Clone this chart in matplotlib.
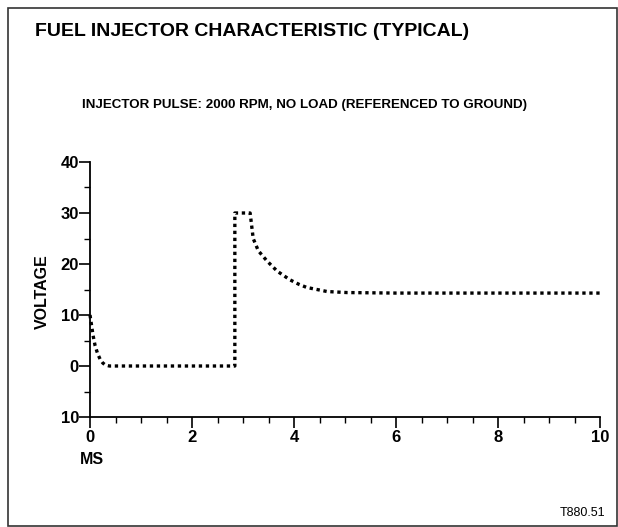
"""
Fuel injector characteristic — injector pulse voltage trace.
"""

import matplotlib.pyplot as plt
from matplotlib.patches import Rectangle
from matplotlib.ticker import MultipleLocator, FixedLocator

plt.rcParams["font.family"] = ["Liberation Sans", "DejaVu Sans"]

# trace (ms, volts)
time_ms = [0.0, 0.03, 0.06, 0.1, 0.15, 0.2, 0.25, 0.3, 0.38, 0.5, 1.0, 2.0, 2.84,
           2.84, 3.0, 3.14, 3.2, 3.3, 3.47, 3.67, 3.92, 4.1, 4.25, 4.65, 5.04, 6.0, 8.0, 10.0]
voltage = [10.0, 8.0, 6.0, 4.0, 2.4, 1.3, 0.6, 0.2, 0.0, 0.0, 0.0, 0.0, 0.0,
           30.0, 30.0, 30.0, 25.0, 22.6, 20.6, 18.6, 16.9, 16.0, 15.4, 14.6, 14.4, 14.3, 14.3, 14.3]

y_ticks = [-10, 0, 10, 20, 30, 40]
y_tick_labels = ["10", "0", "10", "20", "30", "40"]
x_ticks = [0, 2, 4, 6, 8, 10]

fig = plt.figure(figsize=(6.18, 5.27), dpi=100)
fig.patch.set_facecolor("white")

fig.add_artist(Rectangle((8 / 618, 0.0015), 1 - 8 / 618 - 0.0016, 1 - 8 / 527 - 0.0015,
                         transform=fig.transFigure, fill=False, edgecolor="#333333", linewidth=1.2))

fig.text(35 / 618, 1 - 32 / 527, "FUEL INJECTOR CHARACTERISTIC (TYPICAL)",
         fontsize=14, fontweight="bold", va="center", ha="left")
fig.text(82 / 618, 1 - 105 / 527, "INJECTOR PULSE: 2000 RPM, NO LOAD (REFERENCED TO GROUND)",
         fontsize=9.6, fontweight="bold", va="center", ha="left")
fig.text(605 / 618, 1 - 513 / 527, "T880.51", fontsize=9, va="center", ha="right")

ax = fig.add_axes([90 / 618, 1 - 417 / 527, 510 / 618, 255 / 527])
ax.plot(time_ms, voltage, color="black", linewidth=2.4, linestyle=(0, (1, 1.1)),
        dash_capstyle="butt", clip_on=False)

ax.set_xlim(0, 10)
ax.set_ylim(-10, 40)
ax.set_xticks(x_ticks)
ax.xaxis.set_minor_locator(MultipleLocator(0.5))
ax.yaxis.set_major_locator(FixedLocator(y_ticks))
ax.set_yticklabels(y_tick_labels)
ax.yaxis.set_minor_locator(MultipleLocator(5))

for spine in ("top", "right"):
    ax.spines[spine].set_visible(False)
for spine in ("left", "bottom"):
    ax.spines[spine].set_linewidth(1.3)

ax.tick_params(which="major", length=8, width=1.2, labelsize=12, pad=1)
ax.tick_params(which="minor", length=4, width=1.0)
ax.tick_params(axis="y", which="major", pad=0)
for lbl in ax.get_xticklabels() + ax.get_yticklabels():
    lbl.set_fontweight("bold")

fig.text(42 / 618, 1 - 292 / 527, "VOLTAGE", fontsize=11.5, fontweight="bold",
         rotation=90, va="center", ha="center")
fig.text(80 / 618, 1 - 459 / 527, "MS", fontsize=11.5, fontweight="bold", va="center", ha="left")

fig.savefig("out.png", dpi=100, facecolor="white")
